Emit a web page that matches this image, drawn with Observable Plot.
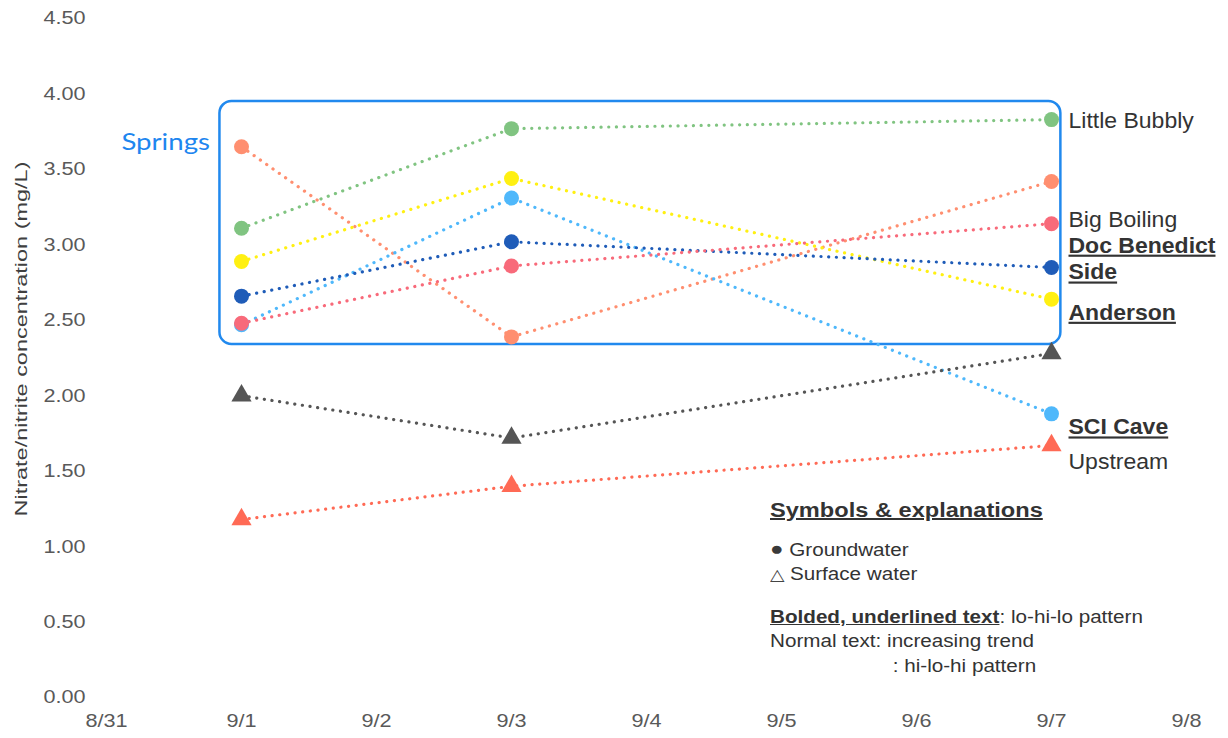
<!DOCTYPE html>
<html>
<head>
<meta charset="utf-8">
<script src="https://cdn.jsdelivr.net/npm/d3@7"></script>
<script src="https://cdn.jsdelivr.net/npm/@observablehq/plot@0.6"></script>
<style>
  html, body { margin: 0; padding: 0; background: #fff; }
  #wrap { position: relative; width: 1228px; height: 738px; font-family: "Liberation Sans", Arial, sans-serif; }
  #notes { position: absolute; left: 770px; top: 498px; color: #333; font-size: 17.5px; line-height: 24.5px;
           transform: scaleX(1.18); transform-origin: 0 0; white-space: nowrap; }
  #notes .head { font-size: 20px; font-weight: bold; text-decoration: underline; margin-bottom: 15px; }
  #notes .b { font-weight: bold; text-decoration: underline; }
  #notes .gap { height: 17px; }
  #notes .ind { padding-left: 104px; }
  #notes .dot { font-size: 19px; line-height: 0; color: #3a3a3a; vertical-align: 1px; }
  #notes .tri { font-size: 16px; color: #444; }
</style>
</head>
<body>
<div id="wrap">
  <div id="chart"></div>
  <div id="notes">
    <div class="head">Symbols &amp; explanations</div>
    <div><span class="dot">●</span> Groundwater</div>
    <div><span class="tri">△</span> Surface water</div>
    <div class="gap"></div>
    <div><span class="b">Bolded, underlined text</span>: lo-hi-lo pattern</div>
    <div>Normal text: increasing trend</div>
    <div class="ind">: hi-lo-hi pattern</div>
  </div>
</div>
<script>
// ---- data ----
const sampleDates = ["2020-09-01", "2020-09-03", "2020-09-07"];
const siteNames = ["Little Bubbly", "Unlabeled spring", "Anderson", "SCI Cave", "Doc Benedict Side", "Big Boiling", "Unlabeled surface site", "Upstream"];
const siteLabels = ["Little Bubbly", "", "Anderson", "SCI Cave", "Doc Benedict\nSide", "Big Boiling", "", "Upstream"];
const siteTypes = ["groundwater", "groundwater", "groundwater", "groundwater", "groundwater", "groundwater", "surface", "surface"];
const labelPattern = ["increasing", "hi-lo-hi", "lo-hi-lo", "lo-hi-lo", "lo-hi-lo", "increasing", "hi-lo-hi", "increasing"];
const littleBubbly = [3.11, 3.77, 3.83];
const unlabeledSpring = [3.65, 2.39, 3.42];
const anderson = [2.89, 3.44, 2.64];
const sciCave = [2.47, 3.31, 1.88];
const docBenedictSide = [2.66, 3.02, 2.85];
const bigBoiling = [2.48, 2.86, 3.14];
const unlabeledSurface = [2.00, 1.72, 2.28];
const upstream = [1.18, 1.40, 1.67];
const seriesValues = [littleBubbly, unlabeledSpring, anderson, sciCave, docBenedictSide, bigBoiling, unlabeledSurface, upstream];
const yTicks = [0, 0.5, 1, 1.5, 2, 2.5, 3, 3.5, 4, 4.5];
const xDomain = ["2020-08-31", "2020-09-08"];
const yTitle = "Nitrate/nitrite concentration (mg/L)";
// springs group extent (data units)
const springsBox = {from: "2020-08-31T20:10", to: "2020-09-07T01:40", low: 2.34, high: 3.95};
const springsLabel = {text: "Springs", y: 3.68};

// ---- styles ----
const siteColors = ["#80c481", "#ff8f70", "#fff012", "#4fb8fb", "#1f5cb8", "#f86a7a", "#555555", "#ff6a55"];
const labelDy = {"Little Bubbly": 0, "Anderson": 12, "SCI Cave": 12, "Doc Benedict Side": -10, "Big Boiling": -5, "Upstream": 15};

// ---- build table ----
const parse = s => new Date(s + (s.length === 10 ? "T00:00Z" : "Z"));
const rows = [];
siteNames.forEach((name, i) => {
  seriesValues[i].forEach((v, j) => {
    rows.push({site: name, type: siteTypes[i], date: parse(sampleDates[j]), value: v});
  });
});
const lastRows = siteNames.map((name, i) => ({
  site: name, label: siteLabels[i], bold: labelPattern[i] === "lo-hi-lo",
  date: parse(sampleDates[sampleDates.length - 1]), value: seriesValues[i][seriesValues[i].length - 1]
})).filter(d => d.label);

const fmtDay = d => `${d.getUTCMonth() + 1}/${d.getUTCDate()}`;
const xTicks = d3.utcDay.range(parse(xDomain[0]), d3.utcDay.offset(parse(xDomain[1]), 1));

const labelMarks = lastRows.map(d => Plot.text([d], {
  x: "date", y: "value", text: "label",
  dx: 17, dy: labelDy[d.site] || 0, textAnchor: "start",
  fontSize: 21.5, fill: "#333", lineHeight: 1.25,
  fontWeight: d.bold ? "bold" : "normal"
}));

const box = [{x1: parse(springsBox.from), x2: parse(springsBox.to), y1: springsBox.low, y2: springsBox.high}];

const chart = Plot.plot({
  width: 1228,
  height: 738,
  marginLeft: 106,
  marginRight: 42,
  marginTop: 18,
  marginBottom: 41,
  style: {fontFamily: "'Liberation Sans', Arial, sans-serif", fontSize: "18.5px", color: "#595959", background: "#fff"},
  x: {type: "utc", domain: xDomain.map(parse), ticks: xTicks, tickFormat: fmtDay, tickSize: 0, tickPadding: 16, label: null},
  y: {domain: [0, 4.5], ticks: yTicks, tickFormat: d3.format(".2f"), tickSize: 0, tickPadding: 21,
      label: yTitle, labelAnchor: "center", labelOffset: 92, labelArrow: "none"},
  color: {domain: siteNames, range: siteColors},
  marks: [
    Plot.rect(box, {x1: "x1", x2: "x2", y1: "y1", y2: "y2", fill: "none", stroke: "#2189ee", strokeWidth: 2.5, rx: 12}),
    Plot.text([springsLabel], {x: () => parse(springsBox.from), y: "y", text: "text", textAnchor: "end", dx: -10,
      fill: "#1e86ef", fontSize: 23, fontFamily: "Lato, 'Open Sans', sans-serif"}),
    Plot.line(rows, {x: "date", y: "value", z: "site", stroke: "site", strokeWidth: 3.2,
      strokeDasharray: "0.1,7.6", strokeLinecap: "round", curve: "linear"}),
    Plot.dot(rows.filter(d => d.type === "groundwater"), {x: "date", y: "value", fill: "site", symbol: "circle", r: 7.5}),
    Plot.dot(rows.filter(d => d.type === "surface"), {x: "date", y: "value", fill: "site", symbol: "triangle", r: 7.5}),
    ...labelMarks
  ]
});

document.getElementById("chart").appendChild(chart);
const svg = d3.select(chart);
svg.selectAll('g[font-weight="bold"] text').attr("text-decoration", "underline");

// widen horizontal text to match the reference's wide glyphs
function stretch(el, k) {
  const parts = el.querySelectorAll("tspan");
  const targets = parts.length ? Array.from(parts) : [el];
  targets.forEach(t => {
    const L = t.getComputedTextLength();
    t.setAttribute("textLength", (L * k).toFixed(1));
    t.setAttribute("lengthAdjust", "spacingAndGlyphs");
  });
}
svg.selectAll("text").each(function() {
  const txt = this.textContent;
  if (txt === yTitle) {
    this.setAttribute("font-size", "17px");
    this.setAttribute("fill", "#404040");
    this.setAttribute("textLength", "355");
    this.setAttribute("lengthAdjust", "spacingAndGlyphs");
    this.setAttribute("dx", "19");
  } else if (txt === springsLabel.text) {
    stretch(this, 1.2);
  } else if (/^[\d./]+$/.test(txt)) {
    stretch(this, 1.17);
  } else {
    stretch(this, 1.07);
  }
});
</script>
</body>
</html>
